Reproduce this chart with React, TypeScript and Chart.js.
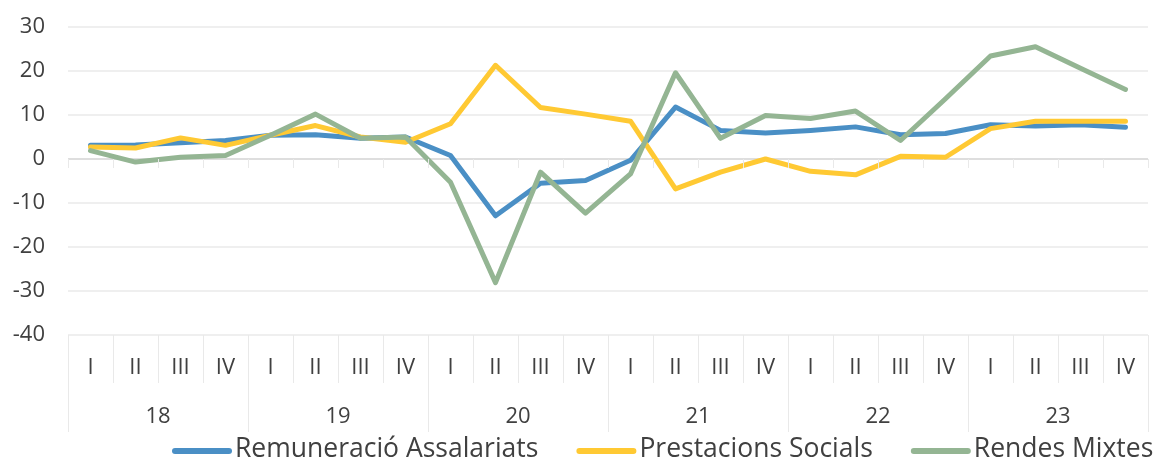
import React, { useEffect, useRef } from "react";
import { Chart, registerables } from "chart.js";

Chart.register(...registerables);

const quarters = [
  "I", "II", "III", "IV", "I", "II", "III", "IV", "I", "II", "III", "IV",
  "I", "II", "III", "IV", "I", "II", "III", "IV", "I", "II", "III", "IV",
];
const years = ["18", "19", "20", "21", "22", "23"];

const remuneracio = [3.1, 3.2, 3.7, 4.2, 5.4, 5.5, 4.7, 5.0, 0.8, -12.9, -5.5, -4.9, -0.3, 11.8, 6.5, 5.9, 6.5, 7.3, 5.5, 5.8, 7.8, 7.5, 7.8, 7.2];
const prestacions = [2.7, 2.5, 4.8, 3.1, 5.4, 7.6, 5.0, 3.8, 8.0, 21.3, 11.7, 10.2, 8.6, -6.8, -3.0, 0.0, -2.8, -3.6, 0.6, 0.4, 6.9, 8.6, 8.6, 8.6];
const rendes = [1.9, -0.7, 0.4, 0.8, 5.4, 10.2, 4.7, 5.0, -5.3, -28.1, -3.0, -12.3, -3.4, 19.6, 4.7, 9.9, 9.2, 10.9, 4.2, 13.7, 23.4, 25.5, 20.6, 15.8];

const seriesNames = ["Remuneració Assalariats", "Prestacions Socials", "Rendes Mixtes"];
const seriesColors = ["#4a8fc5", "#ffc933", "#94b593"];

const Y_MIN = -40;
const Y_MAX = 30;
const Y_STEP = 10;

const FONT = "'Open Sans', sans-serif";
const TEXT = "#404040";

const bottomPlugin = {
  id: "bottomAxis",
  afterDraw(chart: any) {
    const { ctx, chartArea, scales } = chart;
    const xs = scales.x;
    const ys = scales.y;
    const labels = chart.data.labels as string[];
    const n = labels.length;
    const catW = (chartArea.right - chartArea.left) / n;
    const y0 = ys.getPixelForValue(0);
    const bottom = chartArea.bottom;
    ctx.save();
    ctx.strokeStyle = "#e9e9e9";
    ctx.lineWidth = 1;
    for (let k = 0; k <= n; k++) {
      const px = Math.round(k < n ? xs.getPixelForValue(k) - catW / 2 : xs.getPixelForValue(n - 1) + catW / 2) + 0.5;
      ctx.beginPath();
      ctx.moveTo(px, bottom);
      ctx.lineTo(px, k % 4 === 0 ? bottom + 97 : bottom + 48);
      ctx.stroke();
      ctx.beginPath();
      ctx.moveTo(px, Math.round(y0));
      ctx.lineTo(px, Math.round(y0) + 9);
      ctx.stroke();
    }
    ctx.fillStyle = TEXT;
    ctx.textAlign = "center";
    ctx.textBaseline = "middle";
    ctx.font = `22px ${FONT}`;
    labels.forEach((lab, i) => {
      ctx.fillText(lab, xs.getPixelForValue(i), bottom + 33);
    });
    years.forEach((yr, g) => {
      const a = xs.getPixelForValue(g * 4);
      const b = xs.getPixelForValue(g * 4 + 3);
      ctx.fillText(yr, (a + b) / 2, bottom + 82);
    });
    // legend
    ctx.font = `26.5px ${FONT}`;
    ctx.textAlign = "left";
    let lx = 172;
    const ly = 449;
    chart.data.datasets.forEach((ds: any) => {
      ctx.strokeStyle = ds.borderColor;
      ctx.lineWidth = 6;
      ctx.lineCap = "round";
      ctx.beginPath();
      ctx.moveTo(lx + 3, ly + 2);
      ctx.lineTo(lx + 57, ly + 2);
      ctx.stroke();
      ctx.fillStyle = TEXT;
      ctx.fillText(ds.label, lx + 63, ly);
      lx += 63 + ctx.measureText(ds.label).width + 38;
    });
    ctx.restore();
  },
};

export default function App() {
  const ref = useRef<HTMLCanvasElement>(null);
  useEffect(() => {
    if (!ref.current) return;
    const series = [remuneracio, prestacions, rendes];
    const chart = new Chart(ref.current, {
      type: "line",
      data: {
        labels: quarters,
        datasets: series.map((d, i) => ({
          label: seriesNames[i],
          data: d,
          borderColor: seriesColors[i],
          backgroundColor: seriesColors[i],
          borderWidth: 5,
          pointRadius: 0,
          tension: 0,
          borderJoinStyle: "round" as const,
          borderCapStyle: "round" as const,
          order: 2 - i,
        })),
      },
      options: {
        responsive: false,
        animation: false,
        layout: { padding: { top: 27, right: 8, bottom: 0, left: 0 } },
        plugins: { legend: { display: false }, tooltip: { enabled: false } },
        scales: {
          x: {
            type: "category",
            offset: true,
            grid: { display: false },
            border: { display: false },
            ticks: { display: false },
            afterFit(s: any) {
              s.height = 126;
            },
          },
          y: {
            min: Y_MIN,
            max: Y_MAX,
            ticks: {
              stepSize: Y_STEP,
              color: TEXT,
              font: { family: FONT, size: 22 },
              padding: 0,
            },
            grid: {
              drawTicks: true,
              tickLength: 23,
              tickColor: "rgba(0,0,0,0)",
              color: (c: any) => (c.tick && c.tick.value === 0 ? "#dedede" : "#efefef"),
              lineWidth: 2,
            },
            border: { display: false },
            afterFit(s: any) {
              s.width = 68;
            },
          },
        },
      },
      plugins: [bottomPlugin],
    });
    return () => chart.destroy();
  }, []);
  return (
    <div style={{ position: "absolute", left: 0, top: 0, width: 1156, height: 461, background: "#fff" }}>
      <canvas ref={ref} width={1156} height={461} />
    </div>
  );
}
